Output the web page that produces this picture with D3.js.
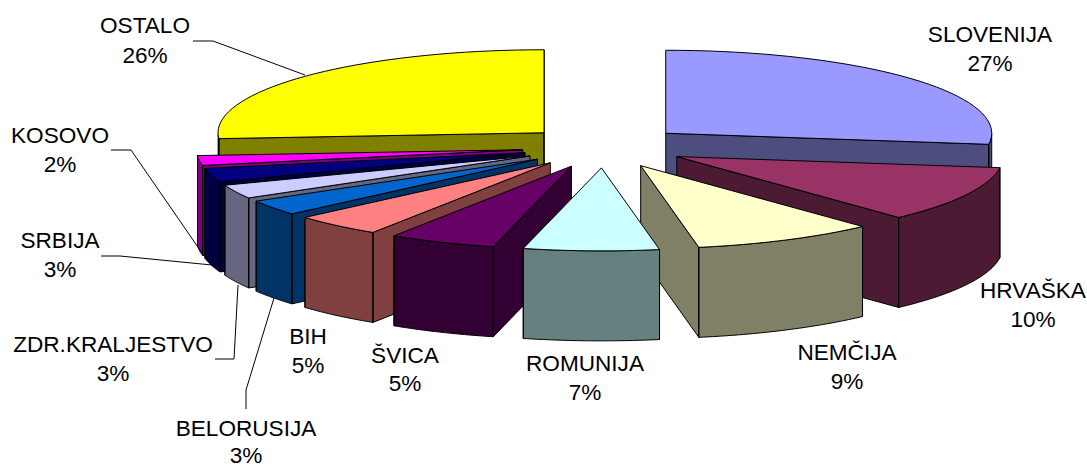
<!DOCTYPE html>
<html><head><meta charset="utf-8">
<script src="https://cdnjs.cloudflare.com/ajax/libs/d3/7.8.5/d3.min.js"></script>
<style>html,body{margin:0;padding:0;background:#fff;overflow:hidden}svg{display:block}text{font-family:"Liberation Sans",Arial,sans-serif;font-size:22.6px;fill:#000}</style>
</head><body><div id="chart"></div>
<script>
const categories=["SLOVENIJA","HRVAŠKA","NEMČIJA","ROMUNIJA","ŠVICA","BIH","BELORUSIJA","ZDR.KRALJESTVO","SRBIJA","KOSOVO","OSTALO"];
const percentLabels=["27%","10%","9%","7%","5%","5%","3%","3%","3%","2%","26%"];
const sliceShares=[27.1,10.95,9.05,6.7,5.3,4.4,3.0,2.7,2.7,1.9,26.1];
const topColors=["#9999FF","#993366","#FFFFCC","#CCFFFF","#660066","#FF8080","#0066CC","#CCCCFF","#000080","#FF00FF","#FFFF00"];
const sideColors=["#4D4D80","#4D1A33","#808066","#668080","#330033","#804040","#003366","#666680","#000040","#800080","#808000"];
const drawOrder=[0,10,9,8,7,6,5,4,1,2,3];
const labelCentres=[[990,42,71],[1033,298,327],[847,360,389],[585,371,400],[405,363,391],[308,344,373],[246,436,463],[113,352,381],[60,248,277],[60,143,172],[145,33,63]];
const leaders=[null,null,null,null,null,null,[[246,409],[246,390],[274,298]],[[215,359],[234,359],[238,285]],[[101,256],[120,256],[212,265]],[[111,150],[131,150],[202,253]],[[193,41],[213,41],[305,75]]];

const W=1087,H=464,cx=604,cy=147,rx=326,ry=83,depth=90,explode=82;
const svg=d3.select("#chart").append("svg").attr("width",W).attr("height",H);
const pie=d3.pie().sort(null).value(d=>d);
const arcs=pie(sliceShares);
const xS=d3.scaleLinear().domain([-1,1]).range([cx-rx,cx+rx]);
const yS=d3.scaleLinear().domain([-1,1]).range([cy-ry,cy+ry]);
const line=d3.line();
function drawSlice(i){
  const a=arcs[i],a0=a.startAngle,a1=a.endAngle,mid=(a0+a1)/2;
  const ex=explode/rx,ux=ex*Math.sin(mid),uy=-ex*Math.cos(mid);
  const P=(ang,r,z=0)=>[xS(ux+r*Math.sin(ang)),yS(uy-r*Math.cos(ang))+z];
  const g=svg.append("g").attr("stroke","#000").attr("stroke-width",1).attr("stroke-linejoin","round");
  const apex=P(0,0);
  const steps=d3.range(0,41).map(k=>a0+(a1-a0)*k/40);
  if(Math.sin(a0)<0) g.append("path").attr("fill",sideColors[i]).attr("d",line([apex,P(a0,1),P(a0,1,depth),P(0,0,depth)])+"Z");
  if(Math.sin(a1)>0) g.append("path").attr("fill",sideColors[i]).attr("d",line([apex,P(a1,1),P(a1,1,depth),P(0,0,depth)])+"Z");
  const rim=steps.filter(t=>Math.cos(t)<=0);
  if(rim.length>1){
    g.append("path").attr("fill",sideColors[i]).attr("d",line(rim.map(t=>P(t,1)).concat(rim.slice().reverse().map(t=>P(t,1,depth))))+"Z");
  }
  g.append("path").attr("fill",topColors[i]).attr("d",line([apex].concat(steps.map(t=>P(t,1))))+"Z");
  [a0,a1].forEach(t=>{ if(Math.cos(t)<0) g.append("path").attr("fill","none").attr("d",line([P(t,1),P(t,1,depth)])); });
}
drawOrder.forEach(drawSlice);
leaders.forEach(l=>{ if(l) svg.append("path").attr("fill","none").attr("stroke","#000").attr("stroke-width",1).attr("d",line(l)); });
categories.forEach((c,i)=>{
  const [x,y1,y2]=labelCentres[i];
  svg.append("text").attr("x",x).attr("y",y1).attr("text-anchor","middle").text(c);
  svg.append("text").attr("x",x).attr("y",y2).attr("text-anchor","middle").text(percentLabels[i]);
});
</script></body></html>
